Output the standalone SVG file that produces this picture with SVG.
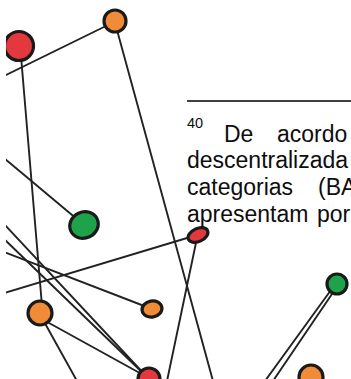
<svg xmlns="http://www.w3.org/2000/svg" width="351" height="379" viewBox="0 0 351 379">
  <defs>
    <clipPath id="figure-area">
      <rect x="6" y="0" width="345" height="379"/>
    </clipPath>
  </defs>
  <style>
    .edge { stroke: #222; stroke-width: 1.9; fill: none; stroke-linecap: round; }
    .node { stroke: #1a1a1a; stroke-width: 3.2; }
    .red { fill: #e3393e; }
    .orange { fill: #f08b37; }
    .green { fill: #1fa34a; }
    .note { font-family: "Liberation Sans", Arial, sans-serif; font-size: 23px; fill: #0d0d0d; }
    .sup { font-size: 14.5px; }
  </style>
  <rect width="351" height="379" fill="#ffffff"/>

  <g clip-path="url(#figure-area)">
    <g id="connectors">
      <line class="edge" x1="110" y1="24" x2="4" y2="76"/>
      <line class="edge" x1="21" y1="56" x2="42" y2="306"/>
      <line class="edge" x1="117" y1="30" x2="213" y2="381"/>
      <line class="edge" x1="4" y1="158" x2="84" y2="225"/>
      <line class="edge" x1="4" y1="224" x2="147" y2="377"/>
      <line class="edge" x1="4" y1="239" x2="147" y2="377"/>
      <line class="edge" x1="4" y1="252" x2="152" y2="309"/>
      <line class="edge" x1="4" y1="293" x2="197" y2="235"/>
      <line class="edge" x1="197" y1="238" x2="167" y2="381"/>
      <line class="edge" x1="40" y1="318" x2="147" y2="377"/>
      <line class="edge" x1="42" y1="318" x2="77" y2="381"/>
      <line class="edge" x1="331" y1="290" x2="265" y2="381"/>
      <line class="edge" x1="334" y1="291" x2="273" y2="381"/>
    </g>

    <g id="node-red-top">
      <ellipse class="node red" cx="19" cy="46" rx="14.5" ry="14.5"/>
    </g>
    <g id="node-orange-top">
      <circle class="node orange" cx="115" cy="21" r="11"/>
    </g>
    <g id="node-green-left">
      <ellipse class="node green" cx="84" cy="225" rx="14.5" ry="13" transform="rotate(-25 84 225)"/>
    </g>
    <g id="node-red-mid">
      <ellipse class="node red" cx="198" cy="235" rx="10.5" ry="6.5" transform="rotate(-25 198 235)"/>
    </g>
    <g id="node-orange-left">
      <circle class="node orange" cx="40" cy="313" r="12"/>
    </g>
    <g id="node-orange-small">
      <ellipse class="node orange" cx="152" cy="309" rx="10" ry="8" transform="rotate(-10 152 309)"/>
    </g>
    <g id="node-red-bottom">
      <circle class="node red" cx="149" cy="379" r="11"/>
    </g>
    <g id="node-green-right">
      <circle class="node green" cx="337" cy="284" r="10"/>
    </g>
    <g id="node-orange-bottom">
      <circle class="node orange" cx="311" cy="377" r="12"/>
    </g>
  </g>

  <g id="footnote">
    <line x1="187" y1="101" x2="351" y2="101" stroke="#000" stroke-width="1.3"/>
    <text class="note sup" x="187" y="128">40</text>
    <text class="note" x="224" y="141.5">De</text>
    <text class="note" x="277" y="141.5">acordo</text>
    <text class="note" x="187" y="168">descentralizada</text>
    <text class="note" x="187" y="195">categorias</text>
    <text class="note" x="318" y="195">(BA</text>
    <text class="note" x="187" y="221.5">apresentam</text>
    <text class="note" x="317" y="221.5">por</text>
  </g>
</svg>
